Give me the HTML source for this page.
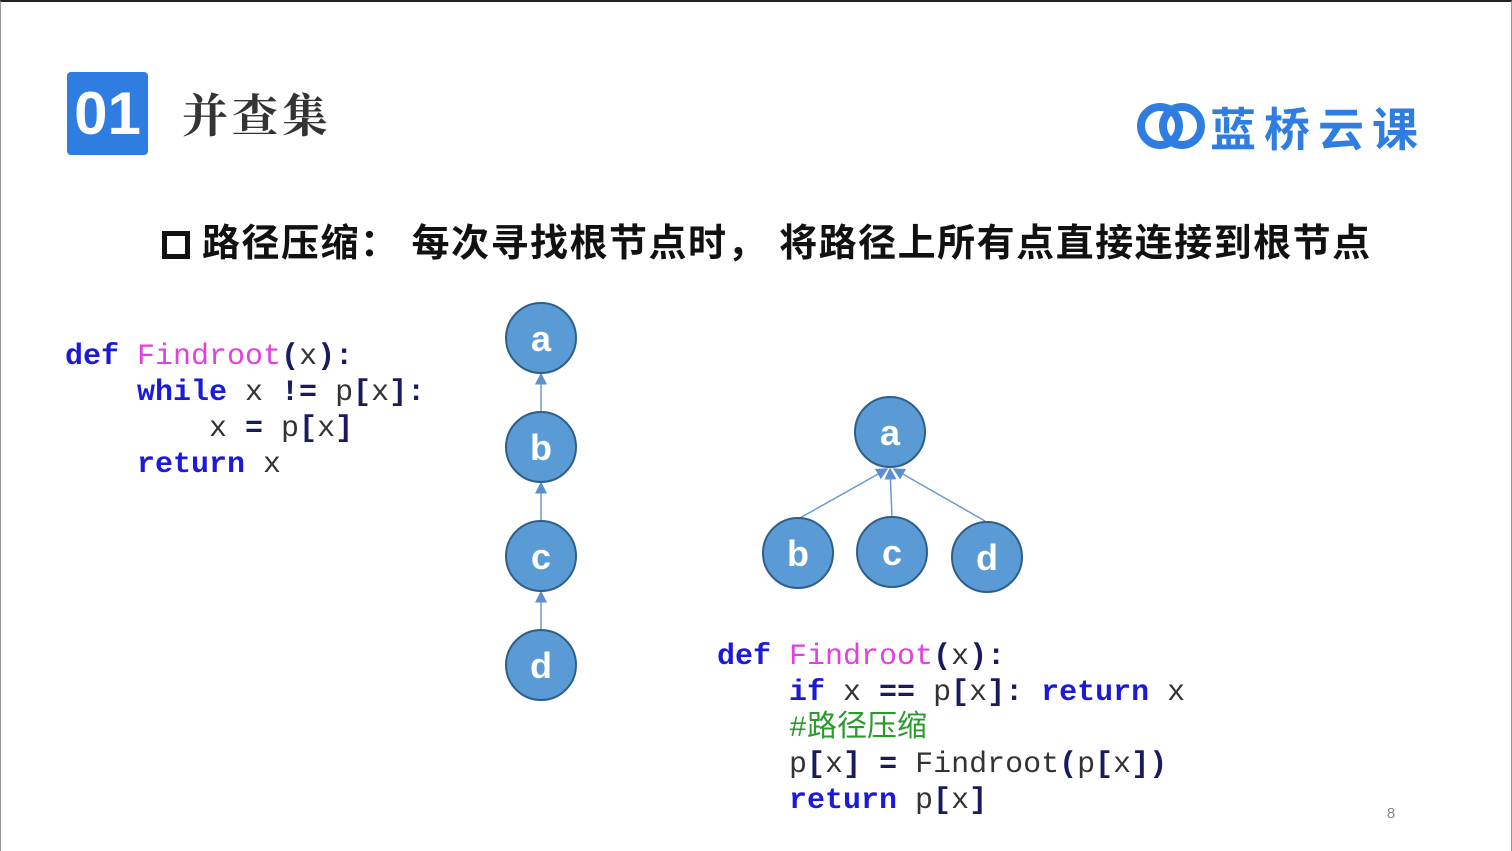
<!DOCTYPE html>
<html><head><meta charset="utf-8"><style>
*{margin:0;padding:0}
body{width:1512px;height:851px;position:relative;background:#fff;overflow:hidden;font-family:"Liberation Sans","Noto Sans CJK SC",sans-serif}
.frame{position:absolute;left:0;top:0;width:1510px;height:849px;border-top:2px solid #222;border-left:1px solid #999;border-right:1px solid #999}
.badge{position:absolute;left:67px;top:72px;width:81px;height:83px;background:#2f7de1;border-radius:4px;color:#fff;font-weight:bold;font-size:60px;line-height:83px;text-align:center}
.title{position:absolute;left:182px;top:80px;font-size:46px;font-weight:bold;color:#333;letter-spacing:4px;font-family:"Noto Serif CJK SC",serif}
.logo{position:absolute;left:1210px;top:94px;font-size:46px;font-weight:bold;color:#2f7de1;letter-spacing:8px;white-space:nowrap}
.head{position:absolute;left:162px;top:212px;font-size:38px;font-weight:bold;color:#111;white-space:nowrap;letter-spacing:1.5px}
.code{position:absolute;font-family:"Liberation Mono","Noto Sans CJK SC",monospace;font-size:30px;line-height:36px;white-space:pre;color:#333}
.k{color:#1a1ad8;font-weight:bold}
.f{color:#e040e0}
.o{color:#1a1a60;font-weight:bold}
.c{color:#2a9a2a;font-family:"Liberation Mono","Noto Sans CJK SC",monospace}
</style></head><body>
<div class="frame"></div>
<div class="badge">01</div>
<div class="title">并查集</div>
<svg style="position:absolute;left:1136px;top:100px" width="72" height="52" viewBox="0 0 72 52">
<circle cx="24" cy="26" r="19" fill="none" stroke="#2f7de1" stroke-width="8"/>
<circle cx="46" cy="26" r="19" fill="none" stroke="#2f7de1" stroke-width="8"/>
</svg>
<div class="logo">蓝桥云课</div>
<div class="head"><span style="display:inline-block;width:28px;height:28px;border:5px solid #111;box-sizing:border-box;vertical-align:-3px;margin-right:12px"></span>路径压缩：&nbsp;每次寻找根节点时，&nbsp;将路径上所有点直接连接到根节点</div>

<div class="code" style="left:65px;top:339px"><span class="k">def</span> <span class="f">Findroot</span><span class="o">(</span>x<span class="o">):</span>
    <span class="k">while</span> x <span class="o">!=</span> p<span class="o">[</span>x<span class="o">]:</span>
        x <span class="o">=</span> p<span class="o">[</span>x<span class="o">]</span>
    <span class="k">return</span> x</div>

<div class="code" style="left:717px;top:639px"><span class="k">def</span> <span class="f">Findroot</span><span class="o">(</span>x<span class="o">):</span>
    <span class="k">if</span> x <span class="o">==</span> p<span class="o">[</span>x<span class="o">]:</span> <span class="k">return</span> x
    <span class="c">#路径压缩</span>
    p<span class="o">[</span>x<span class="o">]</span> <span class="o">=</span> Findroot<span class="o">(</span>p<span class="o">[</span>x<span class="o">])</span>
    <span class="k">return</span> p<span class="o">[</span>x<span class="o">]</span></div>

<svg style="position:absolute;left:0;top:0" width="1512" height="851">
<defs><marker id="ar" markerWidth="8" markerHeight="8" refX="7" refY="4" orient="auto"><path d="M0,0 L8,4 L0,8 z" fill="#5b8fd0"/></marker></defs>
<g stroke="#6a9bd0" stroke-width="1.5" marker-end="url(#ar)">
<line x1="541" y1="412" x2="541" y2="374"/>
<line x1="541" y1="521" x2="541" y2="483"/>
<line x1="541" y1="630" x2="541" y2="592"/>
<line x1="800" y1="518" x2="887" y2="469"/>
<line x1="892" y1="517" x2="890" y2="469"/>
<line x1="985" y1="521" x2="894" y2="469"/>
</g>
<g fill="#5b9bd5" stroke="#2e5f8a" stroke-width="2">
<circle cx="541" cy="338" r="35"/><circle cx="541" cy="447" r="35"/><circle cx="541" cy="556" r="35"/><circle cx="541" cy="665" r="35"/>
<circle cx="890" cy="432" r="35"/><circle cx="798" cy="553" r="35"/><circle cx="892" cy="552" r="35"/><circle cx="987" cy="557" r="35"/>
</g>
<g fill="#fff" font-family="Liberation Sans" font-weight="bold" font-size="36" text-anchor="middle">
<text x="541" y="351">a</text><text x="541" y="460">b</text><text x="541" y="569">c</text><text x="541" y="678">d</text>
<text x="890" y="445">a</text><text x="798" y="566">b</text><text x="892" y="565">c</text><text x="987" y="570">d</text>
</g>
<text x="1391" y="818" font-family="Liberation Sans" font-size="15" fill="#888" text-anchor="middle">8</text>
</svg>
</body></html>
